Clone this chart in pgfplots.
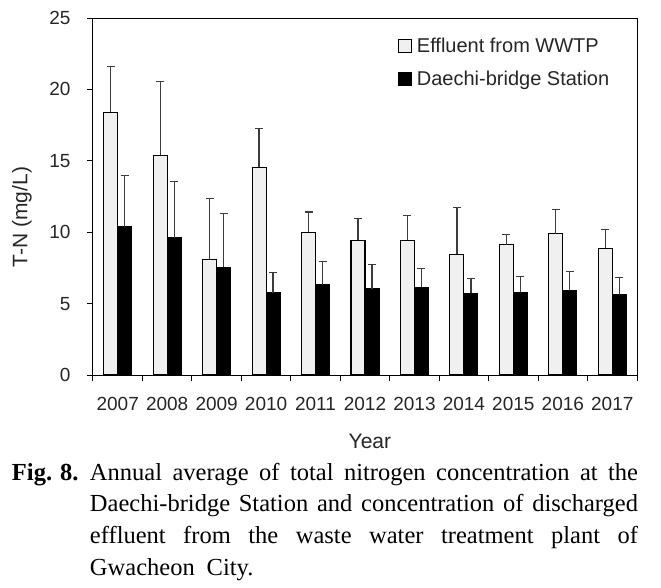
\documentclass[border=0pt]{standalone}
\usepackage{fontspec}
\setmainfont{Liberation Sans}
\newfontfamily\capfont{Liberation Serif}
\usepackage{pgfplots}
\pgfplotsset{compat=1.18}
\definecolor{lightbar}{RGB}{240,240,240}
\definecolor{errcol}{RGB}{60,60,60}
\begin{document}
\begin{tikzpicture}
\begin{axis}[
  scale only axis,
  width=544pt, height=357pt,
  xmin=-0.5, xmax=10.5,
  ymin=0, ymax=25,
  ytick={0,5,...,25},
  xtick={0,...,10},
  xticklabels={2007,2008,2009,2010,2011,2012,2013,2014,2015,2016,2017},
  minor xtick={-0.5,0.5,...,10.5},
  major x tick style={draw=none},
  tick align=outside,
  major tick length=6pt,
  minor tick length=6pt,
  ytick pos=left, xtick pos=bottom,
  tick style={black, line width=1pt},
  axis line style={black, line width=1pt},
  /pgf/number format/assume math mode=true,
  ticklabel style={font=\fontsize{19}{21}\selectfont, text=black!85},
  xticklabel style={yshift=-13pt},
  yticklabel style={xshift=-13pt},
  xlabel={Year},
  ylabel={T-N (mg/L)},
  label style={font=\fontsize{21}{23}\selectfont, text=black!85},
  xlabel style={at={(axis description cs:0.509,-0.2045)}, anchor=base},
  ylabel style={at={(axis description cs:-0.1305,0.4426)}, anchor=center},
  ybar, bar width=14pt,
  legend style={draw=none, fill=none, at={(0.555,0.955)}, anchor=north west,
    font=\fontsize{20}{22}\selectfont, text=black!85, row sep=13pt,
    /tikz/every odd column/.append style={column sep=3pt}},
  legend cell align=left,
  legend image code/.code={\draw[#1, draw=black, line width=0.8pt] (0pt,-6.5pt) rectangle (13pt,6.5pt);},
  error bars/y dir=plus, error bars/y explicit,
  error bars/error bar style={errcol, line width=1.2pt},
  error bars/error mark options={errcol, line width=1.2pt, rotate=90, mark size=4pt},
]
\addplot[fill=lightbar, draw=black, line width=1.1pt, bar shift=-7pt] coordinates {
 (0,18.41) +- (0,3.18)
 (1,15.38) +- (0,5.18)
 (2,8.09) +- (0,4.29)
 (3,14.55) +- (0,2.70)
 (4,10.00) +- (0,1.42)
 (5,9.44) +- (0,1.52)
 (6,9.44) +- (0,1.75)
 (7,8.46) +- (0,3.29)
 (8,9.11) +- (0,0.75)
 (9,9.88) +- (0,1.73)
 (10,8.88) +- (0,1.31)
};
\addlegendentry{Effluent from WWTP}
\addplot[fill=black, draw=black, line width=1.1pt, bar shift=7pt] coordinates {
 (0,10.37) +- (0,3.62)
 (1,9.60) +- (0,3.94)
 (2,7.55) +- (0,3.76)
 (3,5.76) +- (0,1.42)
 (4,6.32) +- (0,1.65)
 (5,6.04) +- (0,1.70)
 (6,6.13) +- (0,1.33)
 (7,5.71) +- (0,1.05)
 (8,5.78) +- (0,1.10)
 (9,5.90) +- (0,1.37)
 (10,5.62) +- (0,1.21)
};
\addlegendentry{Daechi-bridge Station}
\end{axis}
\path (current axis.south west) ++(-93pt,-212pt) rectangle ++(661pt,587pt);
\node[anchor=base west, inner sep=0pt, outer sep=0pt, text width=626pt, align=justify,
  font=\capfont\fontsize{24.5}{31.8}\selectfont]
  at ([xshift=-81pt,yshift=-105pt]current axis.south west)
  {\noindent\hangindent=78pt\hangafter=1\makebox[78pt][l]{\textbf{Fig.\hspace{8pt}8.}}Annual average of total nitrogen concentration at the\linebreak
  Daechi-bridge Station and concentration of discharged\linebreak
  effluent from the waste water treatment plant of\linebreak
  Gwacheon\hspace{12pt}City.\par};
\end{tikzpicture}
\end{document}
